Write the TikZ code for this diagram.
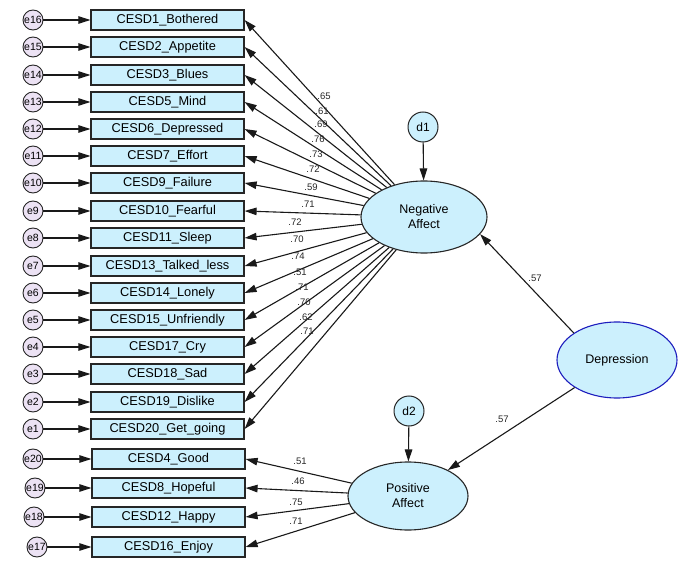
\documentclass[tikz,border=0pt]{standalone}
\usepackage{fontspec}
\setmainfont{Liberation Sans}
\usetikzlibrary{arrows.meta,shapes.geometric}
\definecolor{boxfill}{RGB}{204,240,253}
\definecolor{errfill}{RGB}{236,226,244}
\definecolor{depline}{RGB}{30,30,190}

\begin{document}
\begin{tikzpicture}[x=1pt, y=-1pt,
    item/.style={draw=black!85, fill=boxfill, line width=1.2pt, minimum width=153pt, minimum height=20pt, inner sep=0pt, font=\fontsize{12.8}{14}\selectfont},
    err/.style={circle, draw=black!85, fill=errfill, line width=0.9pt, minimum size=20pt, inner sep=0pt, font=\fontsize{10.5}{12}\selectfont},
    dist/.style={circle, draw=black!85, fill=boxfill, line width=1pt, minimum size=30pt, inner sep=0pt, font=\fontsize{12}{13}\selectfont},
    latent/.style={ellipse, draw=black!85, fill=boxfill, line width=1.1pt, inner sep=0pt, align=center, font=\fontsize{12.5}{15}\selectfont},
    reg/.style={-{Triangle[length=12pt,width=7.5pt]}, line width=1.1pt, black!90},
    est/.style={font=\fontsize{9.5}{10}\selectfont, text=black!85}]
        \useasboundingbox (0,0) rectangle (689,567);
        % Latent factors and disturbances
        \node[latent, minimum width=126pt, minimum height=72pt] (na) at (424,217) {Negative\\Affect};
        \node[latent, minimum width=120pt, minimum height=68pt] (pa) at (408,496) {Positive\\Affect};
        \node[latent, draw=depline, minimum width=120pt, minimum height=76pt] (dep) at (617,360) {Depression};
        \node[dist] (d1) at (423,127) {d1};
        \node[dist] (d2) at (409,411) {d2};
        \draw[reg] (d1) -- (na);
        \draw[reg] (d2) -- (pa);
        % Second order paths
        \draw[reg] (dep.148) -- (na.-17);
        \draw[reg] (dep) -- (pa);
        \node[est] (gna) at (535,278) {.57};
        \node[est] (gpa) at (502,419) {.57};
        % Negative affect indicators
        \foreach \n/\t/\e/\y/\l/\lx/\ly in {
            1/CESD1\_Bothered/16/20/.65/324/96,
            2/CESD2\_Appetite/15/47/.61/322/111,
            3/CESD3\_Blues/14/75/.69/321/124,
            4/CESD5\_Mind/13/102/.76/318/139,
            5/CESD6\_Depressed/12/129/.73/316/154,
            6/CESD7\_Effort/11/156/.72/313/169,
            7/CESD9\_Failure/10/183/.59/311/187,
            8/CESD10\_Fearful/9/211/.71/308/204,
            9/CESD11\_Sleep/8/238/.72/295/222,
            10/CESD13\_Talked\_less/7/266/.70/297/239,
            11/CESD14\_Lonely/6/293/.74/298/256,
            12/CESD15\_Unfriendly/5/320/.51/300/272,
            13/CESD17\_Cry/4/347/.71/302/287,
            14/CESD18\_Sad/3/374/.70/304/302,
            15/CESD19\_Dislike/2/402/.62/306/317,
            16/CESD20\_Get\_going/1/429/.71/307/331} {
            \node[item] (b\n) at (167.5,\y) {\t};
            \node[err] (e\e) at (33,\y) {e\e};
            \draw[reg] (e\e) -- (b\n);
            \draw[reg] (na) -- (b\n.east);
            \node[est] (l\n) at (\lx,\ly) {\l};
        }
        % Positive affect indicators
        \foreach \n/\t/\e/\ex/\y/\l/\lx/\ly in {
            1/CESD4\_Good/20/33/459/.51/300/461,
            2/CESD8\_Hopeful/19/35/488/.46/298/481,
            3/CESD12\_Happy/18/34/517/.75/296/502,
            4/CESD16\_Enjoy/17/37/547/.71/296/521} {
            \node[item] (p\n) at (168.5,\y) {\t};
            \node[err] (e\e) at (\ex,\y) {e\e};
            \draw[reg] (e\e) -- (p\n);
            \draw[reg] (pa) -- (p\n.east);
            \node[est] (m\n) at (\lx,\ly) {\l};
        }
    \end{tikzpicture}
\end{document}
